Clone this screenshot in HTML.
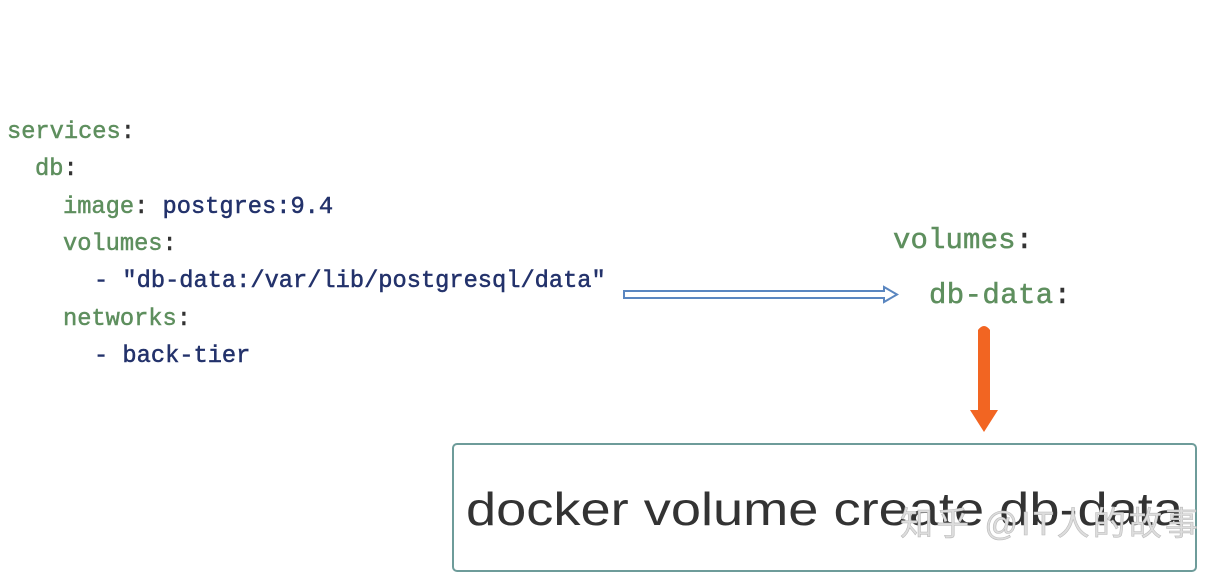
<!DOCTYPE html>
<html><head><meta charset="utf-8"><style>
html,body{margin:0;padding:0;background:#fff;}
svg{display:block}
</style></head><body>
<svg width="1232" height="574" viewBox="0 0 1232 574" xmlns="http://www.w3.org/2000/svg">
<g font-family="Liberation Mono, monospace" font-size="23.7" stroke-width="0.5">
<text x="7" y="138" fill="#5e8f5e" stroke="#5e8f5e">services<tspan fill="#333" stroke="#333">:</tspan></text>
<text x="35" y="175" fill="#5e8f5e" stroke="#5e8f5e">db<tspan fill="#333" stroke="#333">:</tspan></text>
<text x="63" y="213" fill="#5e8f5e" stroke="#5e8f5e">image<tspan fill="#333" stroke="#333">:</tspan> <tspan fill="#23326b" stroke="#23326b">postgres:9.4</tspan></text>
<text x="63" y="250" fill="#5e8f5e" stroke="#5e8f5e">volumes<tspan fill="#333" stroke="#333">:</tspan></text>
<text x="94" y="287" fill="#23326b" stroke="#23326b">- "db-data:/var/lib/postgresql/data"</text>
<text x="63" y="325" fill="#5e8f5e" stroke="#5e8f5e">networks<tspan fill="#333" stroke="#333">:</tspan></text>
<text x="94" y="362" fill="#23326b" stroke="#23326b">- back-tier</text>
</g>
<g font-family="Liberation Mono, monospace" font-size="29" stroke-width="0.5">
<text x="893" y="248" fill="#5e8f5e" stroke="#5e8f5e" textLength="140">volumes<tspan fill="#333" stroke="#333">:</tspan></text>
<text x="929" y="303" fill="#5e8f5e" stroke="#5e8f5e" textLength="142">db-data<tspan fill="#333" stroke="#333">:</tspan></text>
</g>
<path d="M624 291 L884 291 L884 287 L897 294.5 L884 302 L884 298 L624 298 Z" fill="#fff" stroke="#5a86c0" stroke-width="2"/>
<path d="M978 330 Q984 322 990 330 L990 410 L998 410 L984 432 L970 410 L978 410 Z" fill="#f26522"/>
<rect x="453" y="444" width="743" height="127" rx="4" fill="#fff" stroke="#6e9c9a" stroke-width="2"/>
<text x="466" y="525" font-family="Liberation Sans, sans-serif" font-size="46" fill="#333" textLength="717" lengthAdjust="spacingAndGlyphs">docker volume create db-data</text>
<text x="900" y="535" font-family="Liberation Sans, Noto Sans CJK SC, sans-serif" font-size="33" fill="#ddd" stroke="#bbb" stroke-width="0.6" textLength="298">知乎 @IT人的故事</text>
</svg>
</body></html>
